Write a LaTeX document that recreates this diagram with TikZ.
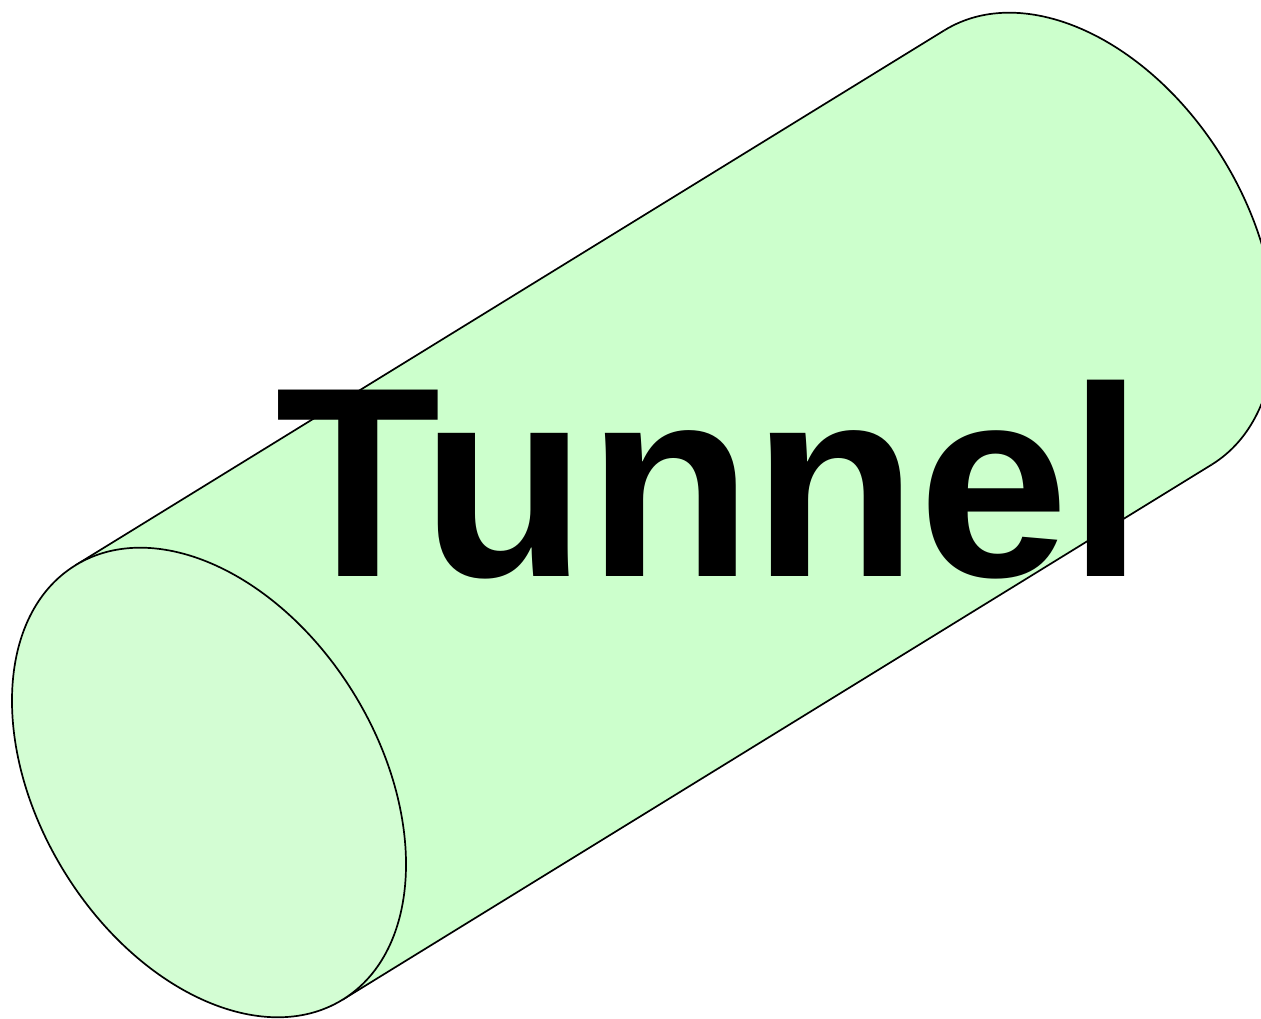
\documentclass[tikz,border=0pt]{standalone}
\usepackage{fontspec}
\setmainfont{Liberation Sans}
\definecolor{bodygreen}{HTML}{CCFFCC}
\definecolor{frontgreen}{HTML}{D3FDD3}
\begin{document}
\begin{tikzpicture}[x=1pt,y=1pt,
  outline/.style={draw=black,line width=1.7pt,line join=round},
  label/.style={inner sep=0pt,anchor=base,font=\fontsize{271}{271}\selectfont\bfseries}]
\useasboundingbox (0,0) rectangle (1261,1019);
\clip (0,0) rectangle (1261,1019);
\coordinate (F) at (209,236.5);
\coordinate (B) at (1078,771.5);
\coordinate (F1) at (75.4,453.7);
\coordinate (F2) at (342.6,19.3);
\coordinate (B1) at (944.4,988.7);
\coordinate (B2) at (1211.6,554.3);
% body fill
\fill[bodygreen] (F1) -- (B1) -- (B2) -- (F2) -- cycle;
\begin{scope}[shift={(B)},rotate=-58.4]
  \fill[bodygreen] (0,0) ellipse [x radius=255,y radius=170];
\end{scope}
% silhouette lines and back arc
\draw[outline] (F1) -- (B1);
\draw[outline] (B2) -- (F2);
\begin{scope}[shift={(B)},rotate=-58.4]
  \draw[outline] (-255,0) arc[start angle=180,end angle=0,x radius=255,y radius=170];
\end{scope}
% front face
\begin{scope}[shift={(F)},rotate=-58.4]
  \draw[outline,fill=frontgreen] (0,0) ellipse [x radius=255,y radius=170];
\end{scope}
\node[label] (title) at (710,442) {Tunnel};
\end{tikzpicture}
\end{document}
